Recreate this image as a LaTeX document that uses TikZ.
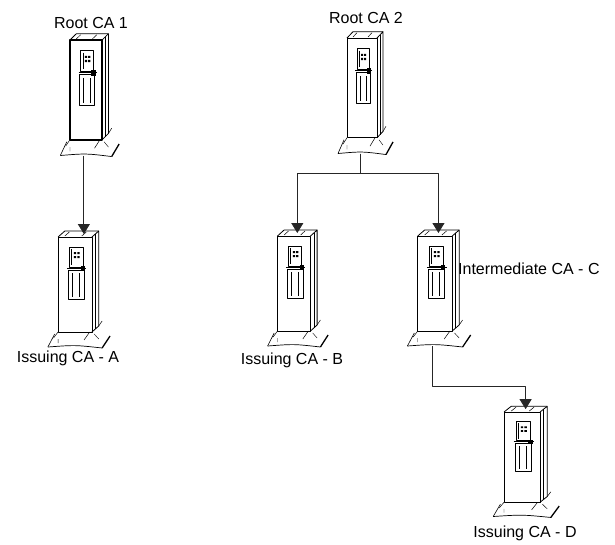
\documentclass[tikz,border=0pt]{standalone}
\usepackage{fontspec}
\setmainfont{Liberation Sans}
\usetikzlibrary{arrows.meta}

\tikzset{
  link/.style={draw=black!85, line width=1pt, -{Triangle[width=12pt,length=10pt]}},
  lbl/.style={font=\fontsize{16}{19}\selectfont, inner sep=0pt},
  frontline/.style={line width=.7pt},
  tower/.pic={
    % cabinet: front, side, top
    \filldraw[fill=white, frontline] (-15,0) rectangle (15,95);
    \draw[line width=.8pt] (15,0) -- (21,-6) -- (21,89) -- (15,95);
    \draw[line width=.5pt] (18,-3) -- (18,92);
    \draw[line width=.8pt] (-15,0) -- (-9,-6) -- (21,-6);
    \draw[line width=.5pt] (-9,-1) -- (-5,-5) (6,-1) -- (10,-5);
    % front panel
    \draw[line width=.6pt] (-5,10) rectangle (7,30);
    \draw[line width=.5pt] (-3,12) -- (-3,28);
    \fill (-1,15) rectangle (1,17) (2,15) rectangle (4,17)
          (-1,19) rectangle (1,21) (2,19) rectangle (4,21);
    \draw[line width=.8pt] (-7,31) -- (10,31);
    \fill (5,29) rectangle (9,34);
    \draw[line width=.6pt] (-6,33) rectangle (8,62);
    \draw[line width=.8pt] (-2,36) -- (-2,60) (4,36) -- (4,60);
    % feet and base plate
    \draw[line width=.5pt] (-15,95) -- (-19,101) (13,95) -- (8,103) (21,89) -- (24,84);
    \draw[line width=.7pt] (-24,110) .. controls (0,108) .. (24,111);
    \draw[line width=.6pt] (-24,110) -- (-18,97);
    \draw[line width=1.3pt] (24,111) -- (31,99);
    \draw[line width=.4pt] (-15,102) -- (-15,106) (17,97) -- (21,102);
    \coordinate (-top) at (3,-3);
    \coordinate (-bot) at (-2,110);
  }
}

\begin{document}
\begin{tikzpicture}[x=1pt, y=-1pt, join=round] % two roots, one intermediate, four issuing
        \useasboundingbox (0,0) rectangle (615,544);
        \pic[xscale=1.07, yscale=1.05, frontline/.style={line width=1.6pt}] (rcaone) at (86,40) {tower};
        \pic[xscale=1.13] (icaa) at (75,237) {tower};
        \pic[yscale=1.05] (rcatwo) at (362,38) {tower};
        \pic[xscale=1.1] (icab) at (294,236) {tower};
        \pic[xscale=1.15] (imcac) at (435,236) {tower};
        \pic[xscale=1.2, yscale=.95] (icad) at (522,412) {tower};
        \node[lbl] (lrcaone) at (91,23) {Root CA 1};
        \node[lbl] (licaa) at (68,358) {Issuing CA - A};
        \node[lbl] (lrcatwo) at (366,18) {Root CA 2};
        \node[lbl] (licab) at (292,360) {Issuing CA - B};
        \node[lbl, anchor=west] (limcac) at (458,269) {Intermediate CA - C};
        \node[lbl] (licad) at (525,533) {Issuing CA - D};
        \draw[link] (rcaone-bot) -- (rcaone-bot |- icaa-top);
        \draw[link] (rcatwo-bot) -- ++(0,20) -| (icab-top);
        \draw[link] (rcatwo-bot) -- ++(0,20) -| (imcac-top);
        \draw[link] (imcac-bot) -- ++(0,40) -| (icad-top);
    \end{tikzpicture}
\end{document}
